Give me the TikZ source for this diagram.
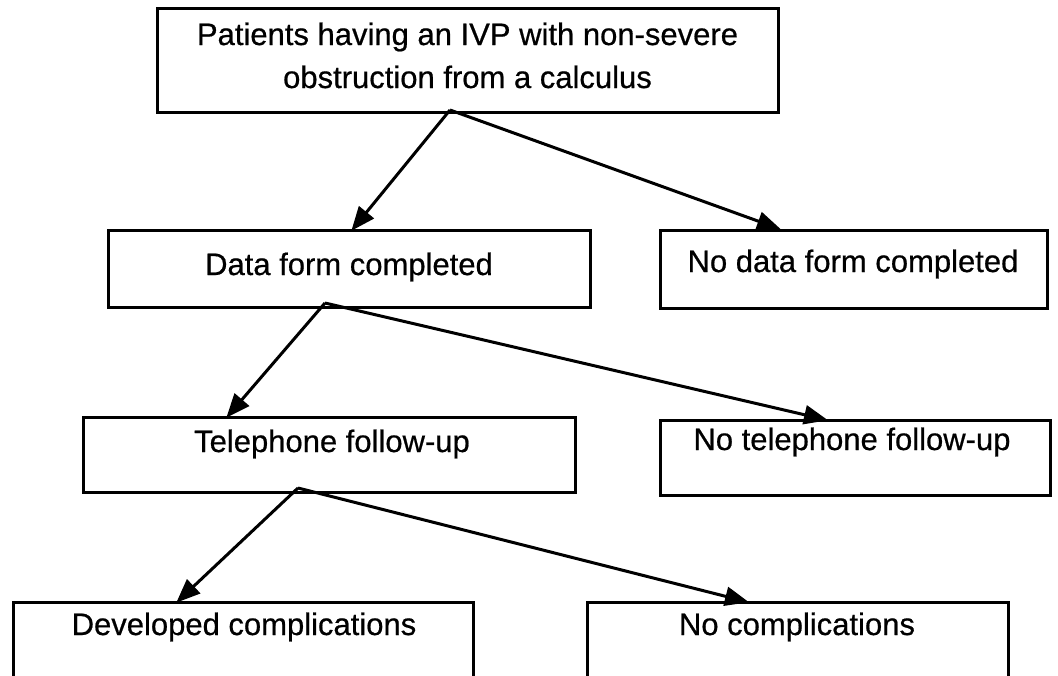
\documentclass[tikz,border=0pt]{standalone}
\usepackage{fontspec}
\setmainfont{Liberation Sans}[FakeBold=0.6]
\usetikzlibrary{arrows.meta}
\begin{document}
\begin{tikzpicture}[x=1pt,y=-1pt,
  box/.style={draw=black, line width=3pt, inner sep=0pt, rectangle},
  txt/.style={anchor=base, inner sep=0pt, font=\fontsize{31}{43}\selectfont},
  conn/.style={draw=black, line width=3pt, -{Triangle[length=24pt,width=19pt]}, shorten >=-1pt}]
\useasboundingbox (0,0) rectangle (1058,675);
% boxes
\node[box, minimum width=621pt, minimum height=104pt] (b1) at (467.5,60) {};
\node[box, minimum width=482pt, minimum height=77pt] (b2) at (349,268.5) {};
\node[box, minimum width=387pt, minimum height=78pt] (b3) at (853.5,269) {};
\node[box, minimum width=492pt, minimum height=75pt] (b4) at (329,454.5) {};
\node[box, minimum width=390pt, minimum height=75pt] (b5) at (855,457.5) {};
\node[box, minimum width=460pt, minimum height=80pt] (b6) at (243,642) {};
\node[box, minimum width=421pt, minimum height=80pt] (b7) at (797.5,642) {};
% texts
\node[txt] (t1a) at (467.5,45) {Patients having an IVP with non-severe};
\node[txt] (t1b) at (467.5,88) {obstruction from a calculus};
\node[txt] (t2) at (349,275) {Data form completed};
\node[txt] (t3) at (853,272) {No data form completed};
\node[txt] (t4) at (332,452) {Telephone follow-up};
\node[txt] (t5) at (852,450) {No telephone follow-up};
\node[txt] (t6) at (244,635) {Developed complications};
\node[txt] (t7) at (797,635) {No complications};
% connector points
\coordinate (s1) at (450,110);
\coordinate (s2) at (325,303);
\coordinate (s3) at (298,488);
\coordinate (e2) at (352,230);
\coordinate (e3) at (780,229);
\coordinate (e4) at (227,417);
\coordinate (e5) at (827,420);
\coordinate (e6) at (177,602);
\coordinate (e7) at (748,602);
\draw[conn] (s1) -- (e2);
\draw[conn] (s1) -- (e3);
\draw[conn] (s2) -- (e4);
\draw[conn] (s2) -- (e5);
\draw[conn] (s3) -- (e6);
\draw[conn] (s3) -- (e7);
\end{tikzpicture}
\end{document}
